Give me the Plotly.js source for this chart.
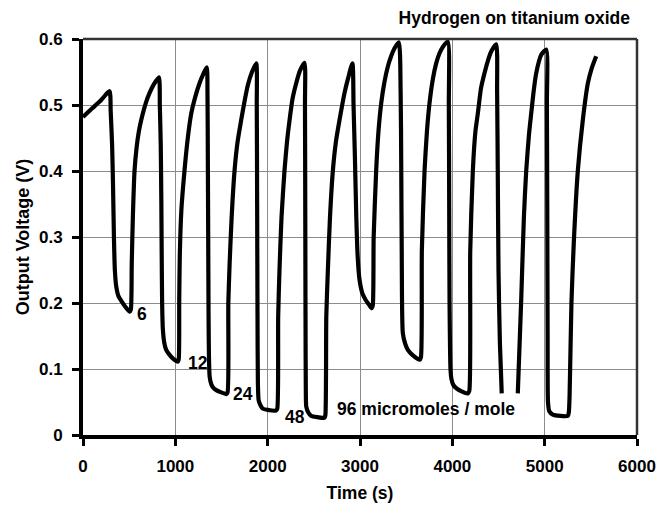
<!DOCTYPE html>
<html>
<head>
<meta charset="utf-8">
<script src="https://cdn.plot.ly/plotly-3.0.1.min.js"></script>
<style>
  html, body { margin: 0; padding: 0; background: #ffffff; }
  #chart { width: 669px; height: 510px; }
</style>
</head>
<body>
<div id="chart"></div>
<script>
// Sensor output voltage versus time, hydrogen pulses on titanium oxide.
// One series; a null marks the short break in the record near 4600 s.
const timeSec = [
  0, 100, 200, 287,
  300, 315, 325, 335, 345, 360, 385, 420, 460, 505,
  518, 528, 540, 558, 580, 605, 630, 680, 720, 770, 822,
  832, 842, 848, 852, 857, 865, 880, 901, 940, 973, 1025,
  1036, 1042, 1048, 1065, 1099, 1135, 1172, 1215, 1262, 1300, 1340,
  1348, 1352, 1356, 1360, 1364, 1372, 1392, 1415, 1443, 1490, 1550,
  1565, 1574, 1588, 1610, 1641, 1675, 1713, 1750, 1785, 1830, 1876,
  1882, 1886, 1890, 1894, 1902, 1922, 1947, 2000, 2090,
  2104, 2114, 2128, 2150, 2182, 2210, 2237, 2270, 2309, 2350, 2399,
  2404, 2407, 2410, 2413, 2418, 2440, 2471, 2540, 2616,
  2625, 2635, 2652, 2675, 2706, 2740, 2778, 2832, 2870, 2918,
  2930, 2945, 2960, 2975, 2995, 3025, 3060, 3095, 3125,
  3138, 3148, 3175, 3200, 3230, 3265, 3301, 3340, 3374, 3420,
  3440, 3447, 3452, 3464, 3490, 3518, 3570, 3645,
  3660, 3670, 3699, 3725, 3753, 3790, 3825, 3860, 3897, 3951,
  3962, 3966, 3970, 3980, 3990, 4010, 4042, 4100, 4168,
  4184, 4194, 4222, 4250, 4276, 4310, 4348, 4385, 4421, 4475,
  4485, 4492, 4500, 4515, 4535,
  4620,
  4709, 4746, 4775, 4800, 4830, 4854, 4880, 4908, 4963, 5017,
  5024, 5028, 5032, 5036, 5050, 5088, 5170, 5251,
  5262, 5270, 5290, 5315, 5359, 5413, 5468, 5510, 5558
];

const outputVolts = [
  0.482, 0.495, 0.508, 0.521,
  0.49, 0.44, 0.38, 0.30, 0.25, 0.225, 0.21, 0.202, 0.194, 0.187,
  0.19, 0.26, 0.33, 0.40, 0.435, 0.46, 0.477, 0.503, 0.518, 0.532, 0.542,
  0.50, 0.44, 0.36, 0.28, 0.20, 0.16, 0.14, 0.129, 0.121, 0.116, 0.111,
  0.114, 0.20, 0.27, 0.34, 0.40, 0.45, 0.487, 0.512, 0.533, 0.546, 0.557,
  0.52, 0.42, 0.30, 0.18, 0.12, 0.088, 0.076, 0.071, 0.068, 0.065, 0.062,
  0.064, 0.20, 0.26, 0.33, 0.40, 0.445, 0.477, 0.506, 0.530, 0.550, 0.563,
  0.50, 0.35, 0.18, 0.08, 0.053, 0.045, 0.040, 0.038, 0.037,
  0.040, 0.18, 0.25, 0.33, 0.40, 0.445, 0.477, 0.510, 0.533, 0.552, 0.564,
  0.50, 0.35, 0.18, 0.07, 0.043, 0.034, 0.029, 0.027, 0.026,
  0.03, 0.18, 0.25, 0.33, 0.40, 0.445, 0.477, 0.518, 0.540, 0.563,
  0.50, 0.42, 0.33, 0.27, 0.235, 0.215, 0.205, 0.198, 0.192,
  0.196, 0.30, 0.40, 0.46, 0.503, 0.535, 0.558, 0.575, 0.586, 0.595,
  0.52, 0.40, 0.28, 0.154, 0.138, 0.129, 0.121, 0.114,
  0.118, 0.28, 0.40, 0.46, 0.503, 0.540, 0.563, 0.578, 0.588, 0.596,
  0.50, 0.35, 0.20, 0.10, 0.085, 0.076, 0.071, 0.066, 0.063,
  0.067, 0.28, 0.40, 0.46, 0.487, 0.525, 0.548, 0.567, 0.581, 0.592,
  0.52, 0.40, 0.25, 0.14, 0.063,
  null,
  0.063, 0.205, 0.33, 0.40, 0.455, 0.487, 0.52, 0.548, 0.576, 0.584,
  0.50, 0.35, 0.15, 0.05, 0.036, 0.031, 0.029, 0.029,
  0.035, 0.06, 0.20, 0.29, 0.40, 0.477, 0.533, 0.556, 0.574
];

// Concentration labels placed beside the troughs (time, voltage, text)
const labelTimes = [641, 1243, 1731, 2291, 2724];
const labelVolts = [0.183, 0.109, 0.062, 0.028, 0.039];
const labelTexts = ['6', '12', '24', '48', '96 micromoles / mole'];

const xTickVals = [0, 1000, 2000, 3000, 4000, 5000, 6000];
const yTickVals = [0, 0.1, 0.2, 0.3, 0.4, 0.5, 0.6];

const FONT = 'Liberation Sans, Arial, Helvetica, sans-serif';
const boldFont = (size) => ({ family: FONT, size: size, color: '#000000', weight: 'bold' });

const trace = {
  type: 'scatter',
  mode: 'lines',
  x: timeSec,
  y: outputVolts,
  connectgaps: false,
  line: { color: '#000000', width: 4.2, shape: 'spline', smoothing: 0.6 },
  hoverinfo: 'skip'
};

const annotations = labelTexts.map((t, i) => ({
  x: labelTimes[i],
  y: labelVolts[i],
  xref: 'x',
  yref: 'y',
  text: t,
  showarrow: false,
  xanchor: i === labelTexts.length - 1 ? 'left' : 'center',
  yanchor: 'middle',
  font: boldFont(17.5)
}));

const layout = {
  width: 669,
  height: 510,
  paper_bgcolor: '#ffffff',
  plot_bgcolor: '#ffffff',
  margin: { l: 83, r: 32, t: 39, b: 75, pad: 0 },
  showlegend: false,
  title: {
    text: 'Hydrogen on titanium oxide',
    xref: 'paper',
    x: 1 - 7 / 554,
    xanchor: 'right',
    yref: 'container',
    y: 1 - 18 / 510,
    yanchor: 'middle',
    font: boldFont(17.5)
  },
  xaxis: {
    range: [0, 6000],
    tickvals: xTickVals,
    ticktext: xTickVals.map(String),
    ticks: 'outside',
    ticklen: 7,
    tickwidth: 3,
    tickcolor: '#000000',
    ticklabelstandoff: 6,
    showline: true,
    linecolor: '#000000',
    linewidth: 4,
    showgrid: true,
    gridcolor: '#8c8c8c',
    gridwidth: 1,
    zeroline: false,
    tickfont: boldFont(17),
    title: { text: 'Time (s)', font: boldFont(17.5), standoff: 12 }
  },
  yaxis: {
    range: [0, 0.6],
    tickvals: yTickVals,
    ticktext: yTickVals.map(String),
    ticks: 'outside',
    ticklen: 7,
    tickwidth: 3,
    tickcolor: '#000000',
    ticklabelstandoff: 6,
    showline: true,
    linecolor: '#000000',
    linewidth: 4,
    showgrid: true,
    gridcolor: '#8c8c8c',
    gridwidth: 1,
    zeroline: false,
    tickfont: boldFont(17),
    title: { text: 'Output Voltage (V)', font: boldFont(18), standoff: 6 }
  },
  // thinner frame on the top and right of the plotting area
  shapes: [
    { type: 'line', xref: 'paper', yref: 'paper', x0: 0, x1: 1, y0: 1, y1: 1,
      line: { color: '#333333', width: 2.5 } },
    { type: 'line', xref: 'paper', yref: 'paper', x0: 1, x1: 1, y0: 0, y1: 1,
      line: { color: '#333333', width: 2.5 } }
  ],
  annotations: annotations
};

Plotly.newPlot('chart', [trace], layout, { displayModeBar: false, staticPlot: true });
</script>
</body>
</html>
